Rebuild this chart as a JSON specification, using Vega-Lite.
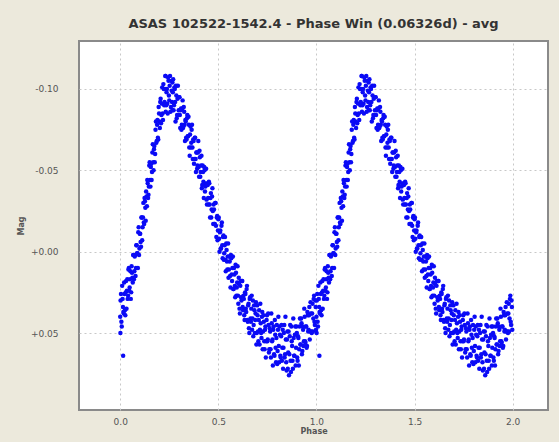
{
  "$schema": "https://vega.github.io/schema/vega-lite/v6.json",
  "width": 469,
  "height": 369,
  "autosize": {"type": "none"},
  "padding": {"left": 79, "top": 41, "right": 11, "bottom": 32},
  "background": "#ece9dc",
  "title": {"text": "ASAS 102522-1542.4 - Phase Win (0.06326d) - avg", "font": "DejaVu Sans", "fontSize": 13, "fontWeight": "bold", "color": "#333333", "anchor": "middle", "offset": 10},
  "config": {
    "view": {"fill": "#ffffff", "stroke": "#8a8a8a", "strokeWidth": 2},
    "axis": {"labelFont": "DejaVu Sans", "labelFontSize": 9, "labelColor": "#555555", "titleFont": "DejaVu Sans", "titleFontSize": 8, "titleFontWeight": "bold", "titleColor": "#555555", "grid": true, "gridColor": "#c8c8c8", "gridDash": [2, 3], "gridWidth": 1, "ticks": false, "domain": false}
  },
  "data": {"values": [
    {"p":0.000,"q":1.000,"m":0.040},{"p":0.004,"q":1.004,"m":0.026},{"p":0.008,"q":1.008,"m":0.046},{"p":0.012,"q":1.012,"m":0.029},{"p":0.016,"q":1.016,"m":0.037},
    {"p":0.015,"q":1.015,"m":0.064},{"p":0.001,"q":1.001,"m":0.050},
    {"p":0.020,"q":1.020,"m":0.019},{"p":0.024,"q":1.024,"m":0.036},{"p":0.028,"q":1.028,"m":0.025},{"p":0.032,"q":1.032,"m":0.035},{"p":0.036,"q":1.036,"m":0.017},
    {"p":0.040,"q":1.040,"m":0.027},{"p":0.044,"q":1.044,"m":0.010},{"p":0.048,"q":1.048,"m":0.022},{"p":0.052,"q":1.052,"m":0.012},{"p":0.056,"q":1.056,"m":0.025},
    {"p":0.060,"q":1.060,"m":0.013},{"p":0.064,"q":1.064,"m":0.019},{"p":0.068,"q":1.068,"m":0.002},{"p":0.072,"q":1.072,"m":0.012},{"p":0.076,"q":1.076,"m":0.002},
    {"p":0.080,"q":1.080,"m":0.010},{"p":0.084,"q":1.084,"m":-0.004},{"p":0.088,"q":1.088,"m":0.001},{"p":0.092,"q":1.092,"m":-0.012},{"p":0.096,"q":1.096,"m":0.002},
    {"p":0.100,"q":1.100,"m":-0.011},{"p":0.104,"q":1.104,"m":-0.006},{"p":0.108,"q":1.108,"m":-0.021},{"p":0.112,"q":1.112,"m":-0.007},{"p":0.116,"q":1.116,"m":-0.021},
    {"p":0.120,"q":1.120,"m":-0.018},{"p":0.124,"q":1.124,"m":-0.033},{"p":0.128,"q":1.128,"m":-0.027},{"p":0.132,"q":1.132,"m":-0.037},{"p":0.136,"q":1.136,"m":-0.028},
    {"p":0.140,"q":1.140,"m":-0.042},{"p":0.144,"q":1.144,"m":-0.035},{"p":0.148,"q":1.148,"m":-0.053},{"p":0.152,"q":1.152,"m":-0.044},{"p":0.156,"q":1.156,"m":-0.052},
    {"p":0.160,"q":1.160,"m":-0.044},{"p":0.164,"q":1.164,"m":-0.061},{"p":0.168,"q":1.168,"m":-0.055},{"p":0.172,"q":1.172,"m":-0.063},{"p":0.176,"q":1.176,"m":-0.055},
    {"p":0.180,"q":1.180,"m":-0.075},{"p":0.184,"q":1.184,"m":-0.067},{"p":0.188,"q":1.188,"m":-0.078},{"p":0.192,"q":1.192,"m":-0.070},{"p":0.196,"q":1.196,"m":-0.089},
    {"p":0.200,"q":1.200,"m":-0.080},{"p":0.204,"q":1.204,"m":-0.092},{"p":0.208,"q":1.208,"m":-0.079},{"p":0.212,"q":1.212,"m":-0.091},{"p":0.216,"q":1.216,"m":-0.085},
    {"p":0.220,"q":1.220,"m":-0.103},{"p":0.224,"q":1.224,"m":-0.090},{"p":0.228,"q":1.228,"m":-0.100},{"p":0.232,"q":1.232,"m":-0.086},{"p":0.236,"q":1.236,"m":-0.098},
    {"p":0.231,"q":1.231,"m":-0.108},{"p":0.266,"q":1.266,"m":-0.104},
    {"p":0.240,"q":1.240,"m":-0.091},{"p":0.244,"q":1.244,"m":-0.107},{"p":0.248,"q":1.248,"m":-0.096},{"p":0.252,"q":1.252,"m":-0.102},{"p":0.256,"q":1.256,"m":-0.086},
    {"p":0.260,"q":1.260,"m":-0.105},{"p":0.264,"q":1.264,"m":-0.092},{"p":0.268,"q":1.268,"m":-0.098},{"p":0.272,"q":1.272,"m":-0.087},{"p":0.276,"q":1.276,"m":-0.101},
    {"p":0.280,"q":1.280,"m":-0.092},{"p":0.284,"q":1.284,"m":-0.102},{"p":0.288,"q":1.288,"m":-0.082},{"p":0.292,"q":1.292,"m":-0.094},{"p":0.296,"q":1.296,"m":-0.084},
    {"p":0.300,"q":1.300,"m":-0.095},{"p":0.304,"q":1.304,"m":-0.084},{"p":0.308,"q":1.308,"m":-0.087},{"p":0.312,"q":1.312,"m":-0.075},{"p":0.316,"q":1.316,"m":-0.088},
    {"p":0.320,"q":1.320,"m":-0.076},{"p":0.324,"q":1.324,"m":-0.089},{"p":0.328,"q":1.328,"m":-0.078},{"p":0.332,"q":1.332,"m":-0.081},{"p":0.336,"q":1.336,"m":-0.070},
    {"p":0.340,"q":1.340,"m":-0.082},{"p":0.344,"q":1.344,"m":-0.071},{"p":0.348,"q":1.348,"m":-0.083},{"p":0.352,"q":1.352,"m":-0.064},{"p":0.356,"q":1.356,"m":-0.072},
    {"p":0.360,"q":1.360,"m":-0.064},{"p":0.364,"q":1.364,"m":-0.075},{"p":0.368,"q":1.368,"m":-0.064},{"p":0.372,"q":1.372,"m":-0.069},{"p":0.376,"q":1.376,"m":-0.054},
    {"p":0.380,"q":1.380,"m":-0.070},{"p":0.384,"q":1.384,"m":-0.057},{"p":0.388,"q":1.388,"m":-0.061},{"p":0.392,"q":1.392,"m":-0.051},{"p":0.396,"q":1.396,"m":-0.061},
    {"p":0.400,"q":1.400,"m":-0.052},{"p":0.404,"q":1.404,"m":-0.062},{"p":0.408,"q":1.408,"m":-0.046},{"p":0.412,"q":1.412,"m":-0.053},{"p":0.416,"q":1.416,"m":-0.039},
    {"p":0.420,"q":1.420,"m":-0.053},{"p":0.424,"q":1.424,"m":-0.043},{"p":0.428,"q":1.428,"m":-0.052},{"p":0.432,"q":1.432,"m":-0.037},{"p":0.436,"q":1.436,"m":-0.042},
    {"p":0.440,"q":1.440,"m":-0.032},{"p":0.444,"q":1.444,"m":-0.042},{"p":0.448,"q":1.448,"m":-0.033},{"p":0.452,"q":1.452,"m":-0.043},{"p":0.456,"q":1.456,"m":-0.029},
    {"p":0.460,"q":1.460,"m":-0.033},{"p":0.464,"q":1.464,"m":-0.021},{"p":0.468,"q":1.468,"m":-0.034},{"p":0.472,"q":1.472,"m":-0.025},{"p":0.476,"q":1.476,"m":-0.029},
    {"p":0.480,"q":1.480,"m":-0.017},{"p":0.484,"q":1.484,"m":-0.030},{"p":0.488,"q":1.488,"m":-0.016},{"p":0.492,"q":1.492,"m":-0.021},{"p":0.496,"q":1.496,"m":-0.007},
    {"p":0.500,"q":1.500,"m":-0.020},{"p":0.504,"q":1.504,"m":-0.008},{"p":0.508,"q":1.508,"m":-0.012},{"p":0.512,"q":1.512,"m":-0.002},{"p":0.516,"q":1.516,"m":-0.016},
    {"p":0.520,"q":1.520,"m":-0.004},{"p":0.524,"q":1.524,"m":-0.009},{"p":0.528,"q":1.528,"m":0.005},{"p":0.532,"q":1.532,"m":-0.004},{"p":0.536,"q":1.536,"m":0.005},
    {"p":0.540,"q":1.540,"m":-0.005},{"p":0.544,"q":1.544,"m":0.006},{"p":0.548,"q":1.548,"m":0.003},{"p":0.552,"q":1.552,"m":0.016},{"p":0.556,"q":1.556,"m":0.003},
    {"p":0.560,"q":1.560,"m":0.015},{"p":0.564,"q":1.564,"m":0.002},{"p":0.568,"q":1.568,"m":0.014},{"p":0.572,"q":1.572,"m":0.010},{"p":0.576,"q":1.576,"m":0.023},
    {"p":0.580,"q":1.580,"m":0.010},{"p":0.584,"q":1.584,"m":0.021},{"p":0.588,"q":1.588,"m":0.008},{"p":0.592,"q":1.592,"m":0.027},{"p":0.596,"q":1.596,"m":0.019},
    {"p":0.600,"q":1.600,"m":0.027},{"p":0.604,"q":1.604,"m":0.016},{"p":0.608,"q":1.608,"m":0.035},{"p":0.612,"q":1.612,"m":0.021},{"p":0.616,"q":1.616,"m":0.028},
    {"p":0.620,"q":1.620,"m":0.018},{"p":0.624,"q":1.624,"m":0.034},{"p":0.628,"q":1.628,"m":0.027},{"p":0.632,"q":1.632,"m":0.039},{"p":0.636,"q":1.636,"m":0.025},
    {"p":0.640,"q":1.640,"m":0.035},{"p":0.644,"q":1.644,"m":0.023},{"p":0.648,"q":1.648,"m":0.042},{"p":0.652,"q":1.652,"m":0.033},{"p":0.656,"q":1.656,"m":0.047},
    {"p":0.660,"q":1.660,"m":0.029},{"p":0.664,"q":1.664,"m":0.041},{"p":0.668,"q":1.668,"m":0.035},{"p":0.672,"q":1.672,"m":0.048},{"p":0.676,"q":1.676,"m":0.030},
    {"p":0.680,"q":1.680,"m":0.045},{"p":0.684,"q":1.684,"m":0.036},{"p":0.688,"q":1.688,"m":0.042},{"p":0.692,"q":1.692,"m":0.031},{"p":0.696,"q":1.696,"m":0.050},
    {"p":0.700,"q":1.700,"m":0.039},{"p":0.704,"q":1.704,"m":0.055},{"p":0.708,"q":1.708,"m":0.036},{"p":0.712,"q":1.712,"m":0.048},{"p":0.716,"q":1.716,"m":0.044},
    {"p":0.720,"q":1.720,"m":0.053},{"p":0.724,"q":1.724,"m":0.037},{"p":0.728,"q":1.728,"m":0.049},{"p":0.732,"q":1.732,"m":0.043},{"p":0.736,"q":1.736,"m":0.060},
    {"p":0.740,"q":1.740,"m":0.046},{"p":0.744,"q":1.744,"m":0.055},{"p":0.748,"q":1.748,"m":0.039},{"p":0.752,"q":1.752,"m":0.054},{"p":0.756,"q":1.756,"m":0.045},
    {"p":0.760,"q":1.760,"m":0.060},{"p":0.764,"q":1.764,"m":0.049},{"p":0.768,"q":1.768,"m":0.065},{"p":0.772,"q":1.772,"m":0.044},{"p":0.776,"q":1.776,"m":0.054},
    {"p":0.780,"q":1.780,"m":0.048},{"p":0.784,"q":1.784,"m":0.063},{"p":0.788,"q":1.788,"m":0.042},{"p":0.792,"q":1.792,"m":0.059},{"p":0.796,"q":1.796,"m":0.053},
    {"p":0.800,"q":1.800,"m":0.069},{"p":0.804,"q":1.804,"m":0.048},{"p":0.808,"q":1.808,"m":0.058},{"p":0.812,"q":1.812,"m":0.046},{"p":0.816,"q":1.816,"m":0.064},
    {"p":0.820,"q":1.820,"m":0.052},{"p":0.824,"q":1.824,"m":0.067},{"p":0.828,"q":1.828,"m":0.048},{"p":0.832,"q":1.832,"m":0.059},{"p":0.836,"q":1.836,"m":0.045},
    {"p":0.840,"q":1.840,"m":0.063},{"p":0.844,"q":1.844,"m":0.054},{"p":0.848,"q":1.848,"m":0.073},{"p":0.852,"q":1.852,"m":0.049},{"p":0.856,"q":1.856,"m":0.062},
    {"p":0.860,"q":1.860,"m":0.076},{"p":0.864,"q":1.864,"m":0.052},{"p":0.868,"q":1.868,"m":0.067},{"p":0.872,"q":1.872,"m":0.046},{"p":0.876,"q":1.876,"m":0.058},
    {"p":0.880,"q":1.880,"m":0.072},{"p":0.884,"q":1.884,"m":0.053},{"p":0.888,"q":1.888,"m":0.064},{"p":0.892,"q":1.892,"m":0.046},{"p":0.896,"q":1.896,"m":0.059},
    {"p":0.900,"q":1.900,"m":0.050},{"p":0.904,"q":1.904,"m":0.067},{"p":0.908,"q":1.908,"m":0.053},{"p":0.912,"q":1.912,"m":0.060},{"p":0.916,"q":1.916,"m":0.041},
    {"p":0.920,"q":1.920,"m":0.057},{"p":0.924,"q":1.924,"m":0.044},{"p":0.928,"q":1.928,"m":0.061},{"p":0.932,"q":1.932,"m":0.048},{"p":0.936,"q":1.936,"m":0.055},
    {"p":0.940,"q":1.940,"m":0.040},{"p":0.944,"q":1.944,"m":0.056},{"p":0.948,"q":1.948,"m":0.046},{"p":0.952,"q":1.952,"m":0.058},{"p":0.956,"q":1.956,"m":0.039},
    {"p":0.960,"q":1.960,"m":0.048},{"p":0.964,"q":1.964,"m":0.034},{"p":0.968,"q":1.968,"m":0.049},{"p":0.972,"q":1.972,"m":0.038},{"p":0.976,"q":1.976,"m":0.050},
    {"p":0.980,"q":1.980,"m":0.032},{"p":0.984,"q":1.984,"m":0.041},{"p":0.988,"q":1.988,"m":0.027},{"p":0.992,"q":1.992,"m":0.045},{"p":0.996,"q":1.996,"m":0.034},
    {"p":0.002,"q":1.002,"m":0.030},{"p":0.006,"q":1.006,"m":0.043},{"p":0.010,"q":1.010,"m":0.021},{"p":0.014,"q":1.014,"m":0.034},{"p":0.018,"q":1.018,"m":0.038},
    {"p":0.022,"q":1.022,"m":0.026},{"p":0.026,"q":1.026,"m":0.039},{"p":0.030,"q":1.030,"m":0.018},{"p":0.034,"q":1.034,"m":0.024},{"p":0.038,"q":1.038,"m":0.029},
    {"p":0.042,"q":1.042,"m":0.011},{"p":0.046,"q":1.046,"m":0.024},{"p":0.050,"q":1.050,"m":0.017},{"p":0.054,"q":1.054,"m":0.029},{"p":0.058,"q":1.058,"m":0.009},
    {"p":0.062,"q":1.062,"m":0.016},{"p":0.066,"q":1.066,"m":0.002},{"p":0.070,"q":1.070,"m":0.017},{"p":0.074,"q":1.074,"m":0.003},{"p":0.078,"q":1.078,"m":0.015},
    {"p":0.082,"q":1.082,"m":-0.004},{"p":0.086,"q":1.086,"m":0.001},{"p":0.090,"q":1.090,"m":0.010},{"p":0.094,"q":1.094,"m":-0.015},{"p":0.098,"q":1.098,"m":-0.002},
    {"p":0.102,"q":1.102,"m":-0.011},{"p":0.106,"q":1.106,"m":-0.003},{"p":0.110,"q":1.110,"m":-0.021},{"p":0.114,"q":1.114,"m":-0.015},{"p":0.118,"q":1.118,"m":-0.030},
    {"p":0.122,"q":1.122,"m":-0.017},{"p":0.126,"q":1.126,"m":-0.031},{"p":0.130,"q":1.130,"m":-0.019},{"p":0.134,"q":1.134,"m":-0.034},{"p":0.138,"q":1.138,"m":-0.044},
    {"p":0.142,"q":1.142,"m":-0.033},{"p":0.146,"q":1.146,"m":-0.040},{"p":0.150,"q":1.150,"m":-0.055},{"p":0.154,"q":1.154,"m":-0.040},{"p":0.158,"q":1.158,"m":-0.054},
    {"p":0.162,"q":1.162,"m":-0.049},{"p":0.166,"q":1.166,"m":-0.066},{"p":0.170,"q":1.170,"m":-0.050},{"p":0.174,"q":1.174,"m":-0.065},{"p":0.178,"q":1.178,"m":-0.060},
    {"p":0.182,"q":1.182,"m":-0.080},{"p":0.186,"q":1.186,"m":-0.068},{"p":0.190,"q":1.190,"m":-0.081},{"p":0.194,"q":1.194,"m":-0.069},{"p":0.198,"q":1.198,"m":-0.085},
    {"p":0.202,"q":1.202,"m":-0.076},{"p":0.206,"q":1.206,"m":-0.094},{"p":0.210,"q":1.210,"m":-0.084},{"p":0.214,"q":1.214,"m":-0.101},{"p":0.218,"q":1.218,"m":-0.081},
    {"p":0.222,"q":1.222,"m":-0.100},{"p":0.226,"q":1.226,"m":-0.092},{"p":0.230,"q":1.230,"m":-0.108},{"p":0.234,"q":1.234,"m":-0.090},{"p":0.238,"q":1.238,"m":-0.100},
    {"p":0.242,"q":1.242,"m":-0.085},{"p":0.246,"q":1.246,"m":-0.105},{"p":0.250,"q":1.250,"m":-0.093},{"p":0.254,"q":1.254,"m":-0.108},{"p":0.258,"q":1.258,"m":-0.089},
    {"p":0.262,"q":1.262,"m":-0.099},{"p":0.266,"q":1.266,"m":-0.087},{"p":0.270,"q":1.270,"m":-0.106},{"p":0.274,"q":1.274,"m":-0.090},{"p":0.278,"q":1.278,"m":-0.100},
    {"p":0.282,"q":1.282,"m":-0.080},{"p":0.286,"q":1.286,"m":-0.096},{"p":0.290,"q":1.290,"m":-0.084},{"p":0.294,"q":1.294,"m":-0.102},{"p":0.298,"q":1.298,"m":-0.087},
    {"p":0.302,"q":1.302,"m":-0.095},{"p":0.306,"q":1.306,"m":-0.076},{"p":0.310,"q":1.310,"m":-0.088},{"p":0.314,"q":1.314,"m":-0.078},{"p":0.318,"q":1.318,"m":-0.093},
    {"p":0.322,"q":1.322,"m":-0.077},{"p":0.326,"q":1.326,"m":-0.086},{"p":0.330,"q":1.330,"m":-0.068},{"p":0.334,"q":1.334,"m":-0.080},{"p":0.338,"q":1.338,"m":-0.069},
    {"p":0.342,"q":1.342,"m":-0.084},{"p":0.346,"q":1.346,"m":-0.071},{"p":0.350,"q":1.350,"m":-0.078},{"p":0.354,"q":1.354,"m":-0.059},{"p":0.358,"q":1.358,"m":-0.077},
    {"p":0.362,"q":1.362,"m":-0.067},{"p":0.366,"q":1.366,"m":-0.078},{"p":0.370,"q":1.370,"m":-0.057},{"p":0.374,"q":1.374,"m":-0.068},{"p":0.378,"q":1.378,"m":-0.057},
    {"p":0.382,"q":1.382,"m":-0.070},{"p":0.386,"q":1.386,"m":-0.049},{"p":0.390,"q":1.390,"m":-0.061},{"p":0.394,"q":1.394,"m":-0.053},{"p":0.398,"q":1.398,"m":-0.068},
    {"p":0.402,"q":1.402,"m":-0.046},{"p":0.406,"q":1.406,"m":-0.058},{"p":0.410,"q":1.410,"m":-0.049},{"p":0.414,"q":1.414,"m":-0.059},{"p":0.418,"q":1.418,"m":-0.041},
    {"p":0.422,"q":1.422,"m":-0.049},{"p":0.426,"q":1.426,"m":-0.033},{"p":0.430,"q":1.430,"m":-0.050},{"p":0.434,"q":1.434,"m":-0.040},{"p":0.438,"q":1.438,"m":-0.051},
    {"p":0.442,"q":1.442,"m":-0.029},{"p":0.446,"q":1.446,"m":-0.041},{"p":0.450,"q":1.450,"m":-0.029},{"p":0.454,"q":1.454,"m":-0.042},{"p":0.458,"q":1.458,"m":-0.021},
    {"p":0.462,"q":1.462,"m":-0.036},{"p":0.466,"q":1.466,"m":-0.026},{"p":0.470,"q":1.470,"m":-0.039},{"p":0.474,"q":1.474,"m":-0.017},{"p":0.478,"q":1.478,"m":-0.026},
    {"p":0.482,"q":1.482,"m":-0.017},{"p":0.486,"q":1.486,"m":-0.030},{"p":0.490,"q":1.490,"m":-0.009},{"p":0.494,"q":1.494,"m":-0.022},{"p":0.498,"q":1.498,"m":-0.013},
    {"p":0.502,"q":1.502,"m":-0.021},{"p":0.506,"q":1.506,"m":0.000},{"p":0.510,"q":1.510,"m":-0.013},{"p":0.514,"q":1.514,"m":-0.002},{"p":0.518,"q":1.518,"m":-0.018},
    {"p":0.522,"q":1.522,"m":0.004},{"p":0.526,"q":1.526,"m":-0.010},{"p":0.530,"q":1.530,"m":0.001},{"p":0.534,"q":1.534,"m":-0.009},{"p":0.538,"q":1.538,"m":0.012},
    {"p":0.542,"q":1.542,"m":-0.001},{"p":0.546,"q":1.546,"m":0.011},{"p":0.550,"q":1.550,"m":-0.005},{"p":0.554,"q":1.554,"m":0.011},{"p":0.558,"q":1.558,"m":0.006},
    {"p":0.562,"q":1.562,"m":0.022},{"p":0.566,"q":1.566,"m":0.004},{"p":0.570,"q":1.570,"m":0.018},{"p":0.574,"q":1.574,"m":0.003},{"p":0.578,"q":1.578,"m":0.023},
    {"p":0.582,"q":1.582,"m":0.014},{"p":0.586,"q":1.586,"m":0.028},{"p":0.590,"q":1.590,"m":0.013},{"p":0.594,"q":1.594,"m":0.022},{"p":0.598,"q":1.598,"m":0.009},
    {"p":0.602,"q":1.602,"m":0.032},{"p":0.606,"q":1.606,"m":0.020},{"p":0.610,"q":1.610,"m":0.038},{"p":0.614,"q":1.614,"m":0.018},{"p":0.618,"q":1.618,"m":0.030},
    {"p":0.622,"q":1.622,"m":0.018},{"p":0.626,"q":1.626,"m":0.036},{"p":0.630,"q":1.630,"m":0.029},{"p":0.634,"q":1.634,"m":0.042},{"p":0.638,"q":1.638,"m":0.026},
    {"p":0.642,"q":1.642,"m":0.037},{"p":0.646,"q":1.646,"m":0.021},{"p":0.650,"q":1.650,"m":0.043},{"p":0.654,"q":1.654,"m":0.032},{"p":0.658,"q":1.658,"m":0.050},
    {"p":0.662,"q":1.662,"m":0.028},{"p":0.666,"q":1.666,"m":0.043},{"p":0.670,"q":1.670,"m":0.027},{"p":0.674,"q":1.674,"m":0.041},{"p":0.678,"q":1.678,"m":0.052},
    {"p":0.682,"q":1.682,"m":0.033},{"p":0.686,"q":1.686,"m":0.050},{"p":0.690,"q":1.690,"m":0.038},{"p":0.694,"q":1.694,"m":0.057},{"p":0.698,"q":1.698,"m":0.033},
    {"p":0.702,"q":1.702,"m":0.049},{"p":0.706,"q":1.706,"m":0.042},{"p":0.710,"q":1.710,"m":0.057},{"p":0.714,"q":1.714,"m":0.032},{"p":0.718,"q":1.718,"m":0.050},
    {"p":0.722,"q":1.722,"m":0.040},{"p":0.726,"q":1.726,"m":0.060},{"p":0.730,"q":1.730,"m":0.039},{"p":0.734,"q":1.734,"m":0.055},{"p":0.738,"q":1.738,"m":0.048},
    {"p":0.742,"q":1.742,"m":0.065},{"p":0.746,"q":1.746,"m":0.042},{"p":0.750,"q":1.750,"m":0.055},{"p":0.754,"q":1.754,"m":0.038},{"p":0.758,"q":1.758,"m":0.062},
    {"p":0.762,"q":1.762,"m":0.047},{"p":0.766,"q":1.766,"m":0.060},{"p":0.770,"q":1.770,"m":0.038},{"p":0.774,"q":1.774,"m":0.055},{"p":0.778,"q":1.778,"m":0.070},
    {"p":0.782,"q":1.782,"m":0.046},{"p":0.786,"q":1.786,"m":0.064},{"p":0.790,"q":1.790,"m":0.051},{"p":0.794,"q":1.794,"m":0.068},{"p":0.798,"q":1.798,"m":0.045},
    {"p":0.802,"q":1.802,"m":0.061},{"p":0.806,"q":1.806,"m":0.040},{"p":0.810,"q":1.810,"m":0.068},{"p":0.814,"q":1.814,"m":0.051},{"p":0.818,"q":1.818,"m":0.065},
    {"p":0.822,"q":1.822,"m":0.045},{"p":0.826,"q":1.826,"m":0.059},{"p":0.830,"q":1.830,"m":0.072},{"p":0.834,"q":1.834,"m":0.050},{"p":0.838,"q":1.838,"m":0.065},
    {"p":0.842,"q":1.842,"m":0.040},{"p":0.846,"q":1.846,"m":0.068},{"p":0.850,"q":1.850,"m":0.054},{"p":0.854,"q":1.854,"m":0.072},{"p":0.858,"q":1.858,"m":0.049},
    {"p":0.862,"q":1.862,"m":0.063},{"p":0.866,"q":1.866,"m":0.045},{"p":0.870,"q":1.870,"m":0.074},{"p":0.874,"q":1.874,"m":0.055},{"p":0.878,"q":1.878,"m":0.067},
    {"p":0.882,"q":1.882,"m":0.041},{"p":0.886,"q":1.886,"m":0.064},{"p":0.890,"q":1.890,"m":0.051},{"p":0.894,"q":1.894,"m":0.070},{"p":0.898,"q":1.898,"m":0.046},
    {"p":0.902,"q":1.902,"m":0.065},{"p":0.906,"q":1.906,"m":0.052},{"p":0.910,"q":1.910,"m":0.070},{"p":0.914,"q":1.914,"m":0.046},{"p":0.918,"q":1.918,"m":0.057},
    {"p":0.922,"q":1.922,"m":0.041},{"p":0.926,"q":1.926,"m":0.063},{"p":0.930,"q":1.930,"m":0.046},{"p":0.934,"q":1.934,"m":0.058},{"p":0.938,"q":1.938,"m":0.035},
    {"p":0.942,"q":1.942,"m":0.055},{"p":0.946,"q":1.946,"m":0.046},{"p":0.950,"q":1.950,"m":0.059},{"p":0.954,"q":1.954,"m":0.037},{"p":0.958,"q":1.958,"m":0.049},
    {"p":0.962,"q":1.962,"m":0.039},{"p":0.966,"q":1.966,"m":0.054},{"p":0.970,"q":1.970,"m":0.031},{"p":0.974,"q":1.974,"m":0.049},{"p":0.978,"q":1.978,"m":0.038},
    {"p":0.982,"q":1.982,"m":0.049},{"p":0.986,"q":1.986,"m":0.029},{"p":0.990,"q":1.990,"m":0.043},{"p":0.994,"q":1.994,"m":0.030},{"p":0.998,"q":1.998,"m":0.048}
  ]},
  "transform": [{"fold": ["p", "q"], "as": ["copy", "phase"]}],
  "mark": {"type": "point", "filled": true, "shape": "circle", "size": 20, "color": "#0a0af5", "opacity": 1},
  "encoding": {
    "x": {"field": "phase", "type": "quantitative", "title": "Phase",
      "scale": {"domain": [-0.21, 2.18], "nice": false, "zero": false},
      "axis": {"values": [0, 0.5, 1, 1.5, 2], "format": ".1f", "labelPadding": 7, "titlePadding": 1}},
    "y": {"field": "m", "type": "quantitative", "title": "Mag",
      "scale": {"domain": [-0.1295, 0.0973], "nice": false, "zero": false, "reverse": true},
      "axis": {"values": [-0.1, -0.05, 0, 0.05], "labelExpr": "datum.value < 0 ? '-' + format(-datum.value, '.2f') : '+' + format(datum.value, '.2f')", "labelPadding": 21, "titlePadding": 5}}
  }
}
